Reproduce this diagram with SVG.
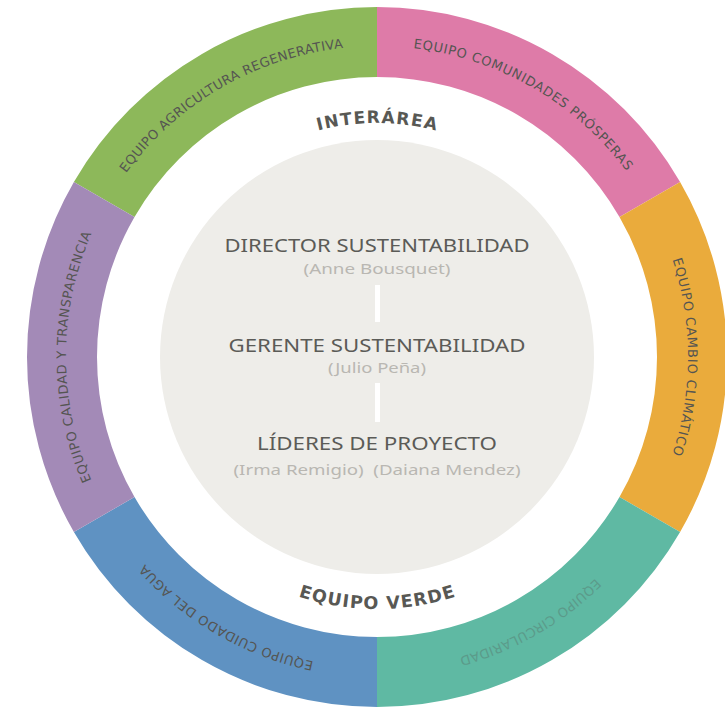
<svg xmlns="http://www.w3.org/2000/svg" width="725" height="707" viewBox="0 0 725 707">
<style>
.seg-label{font-family:"DejaVu Sans","Noto Sans",sans-serif;font-size:13px;fill:#555552;text-anchor:middle}
.ring-title{font-family:"DejaVu Sans","Noto Sans",sans-serif;font-size:17px;font-weight:bold;fill:#585854;text-anchor:middle}
.role{font-family:"Noto Sans","DejaVu Sans",sans-serif;font-size:18.5px;fill:#5b5b57;text-anchor:middle}
.name{font-family:"Noto Sans","DejaVu Sans",sans-serif;font-size:14.5px;fill:#b9b7b2;text-anchor:middle}
</style>
<defs>
<path id="arc-green" d="M107.67,201.5 A311,311 0 0 1 377,46"/>
<path id="arc-pink" d="M377,46 A311,311 0 0 1 646.33,201.5"/>
<path id="arc-orange" d="M646.33,201.5 A311,311 0 0 1 646.33,512.5"/>
<path id="arc-teal" d="M646.33,512.5 A311,311 0 0 1 377,668"/>
<path id="arc-blue" d="M377,668 A311,311 0 0 1 107.67,512.5"/>
<path id="arc-purple" d="M107.67,512.5 A311,311 0 0 1 107.67,201.5"/>
<path id="arc-top" d="M174.35,240 A234,234 0 0 1 579.65,240"/>
<path id="arc-bottom" d="M158.77,483 A252,252 0 0 0 595.23,483"/>
</defs>
<rect width="725" height="707" fill="#ffffff"/>
<g id="seg-green"><path d="M73.89,182 A350,350 0 0 1 377,7 L377,77 A280,280 0 0 0 134.51,217 Z" fill="#8db85a"/>
<text class="seg-label"><textPath href="#arc-green" startOffset="50%" textLength="258" lengthAdjust="spacing">EQUIPO AGRICULTURA REGENERATIVA</textPath></text></g>
<g id="seg-pink"><path d="M377,7 A350,350 0 0 1 680.11,182 L619.49,217 A280,280 0 0 0 377,77 Z" fill="#de7ba8"/>
<text class="seg-label"><textPath href="#arc-pink" startOffset="50%" textLength="253" lengthAdjust="spacing">EQUIPO COMUNIDADES PRÓSPERAS</textPath></text></g>
<g id="seg-orange"><path d="M680.11,182 A350,350 0 0 1 680.11,532 L619.49,497 A280,280 0 0 0 619.49,217 Z" fill="#eaab3c"/>
<text class="seg-label"><textPath href="#arc-orange" startOffset="50%" textLength="198" lengthAdjust="spacing">EQUIPO CAMBIO CLIMÁTICO</textPath></text></g>
<g id="seg-teal"><path d="M680.11,532 A350,350 0 0 1 377,707 L377,637 A280,280 0 0 0 619.49,497 Z" fill="#5fb9a3"/>
<text class="seg-label" opacity="0.3"><textPath href="#arc-teal" startOffset="50%" textLength="159" lengthAdjust="spacing">EQUIPO CIRCULARIDAD</textPath></text></g>
<g id="seg-blue"><path d="M377,707 A350,350 0 0 1 73.89,532 L134.51,497 A280,280 0 0 0 377,637 Z" fill="#5f92c2"/>
<text class="seg-label"><textPath href="#arc-blue" startOffset="50%" textLength="198" lengthAdjust="spacing">EQUIPO CUIDADO DEL AGUA</textPath></text></g>
<g id="seg-purple"><path d="M73.89,532 A350,350 0 0 1 73.89,182 L134.51,217 A280,280 0 0 0 134.51,497 Z" fill="#a38ab7"/>
<text class="seg-label"><textPath href="#arc-purple" startOffset="50%" textLength="254" lengthAdjust="spacing">EQUIPO CALIDAD Y TRANSPARENCIA</textPath></text></g>
<g id="ring-titles">
<text class="ring-title"><textPath href="#arc-top" startOffset="50%" textLength="119" lengthAdjust="spacing">INTERÁREA</textPath></text>
<text class="ring-title" style="font-size:17.5px"><textPath href="#arc-bottom" startOffset="50%" textLength="160" lengthAdjust="spacing">EQUIPO VERDE</textPath></text>
</g>
<g id="core"><circle cx="377" cy="357" r="217" fill="#eeede9"/></g>
<g id="connectors">
<rect x="375" y="285" width="5" height="37" fill="#ffffff"/>
<rect x="375" y="383" width="5" height="39" fill="#ffffff"/>
</g>
<g id="node-director">
<text class="role" x="377" y="252" textLength="305" lengthAdjust="spacingAndGlyphs">DIRECTOR SUSTENTABILIDAD</text>
<text class="name" x="377" y="274" textLength="147" lengthAdjust="spacingAndGlyphs">(Anne Bousquet)</text>
</g>
<g id="node-gerente">
<text class="role" x="377" y="352" textLength="297" lengthAdjust="spacingAndGlyphs">GERENTE SUSTENTABILIDAD</text>
<text class="name" x="377" y="373" textLength="98" lengthAdjust="spacingAndGlyphs">(Julio Peña)</text>
</g>
<g id="node-lideres">
<text class="role" x="377" y="450" textLength="240" lengthAdjust="spacingAndGlyphs">LÍDERES DE PROYECTO</text>
<text class="name" x="377" y="475" textLength="287" lengthAdjust="spacingAndGlyphs" xml:space="preserve">(Irma Remigio)  (Daiana Mendez)</text>
</g>
</svg>
